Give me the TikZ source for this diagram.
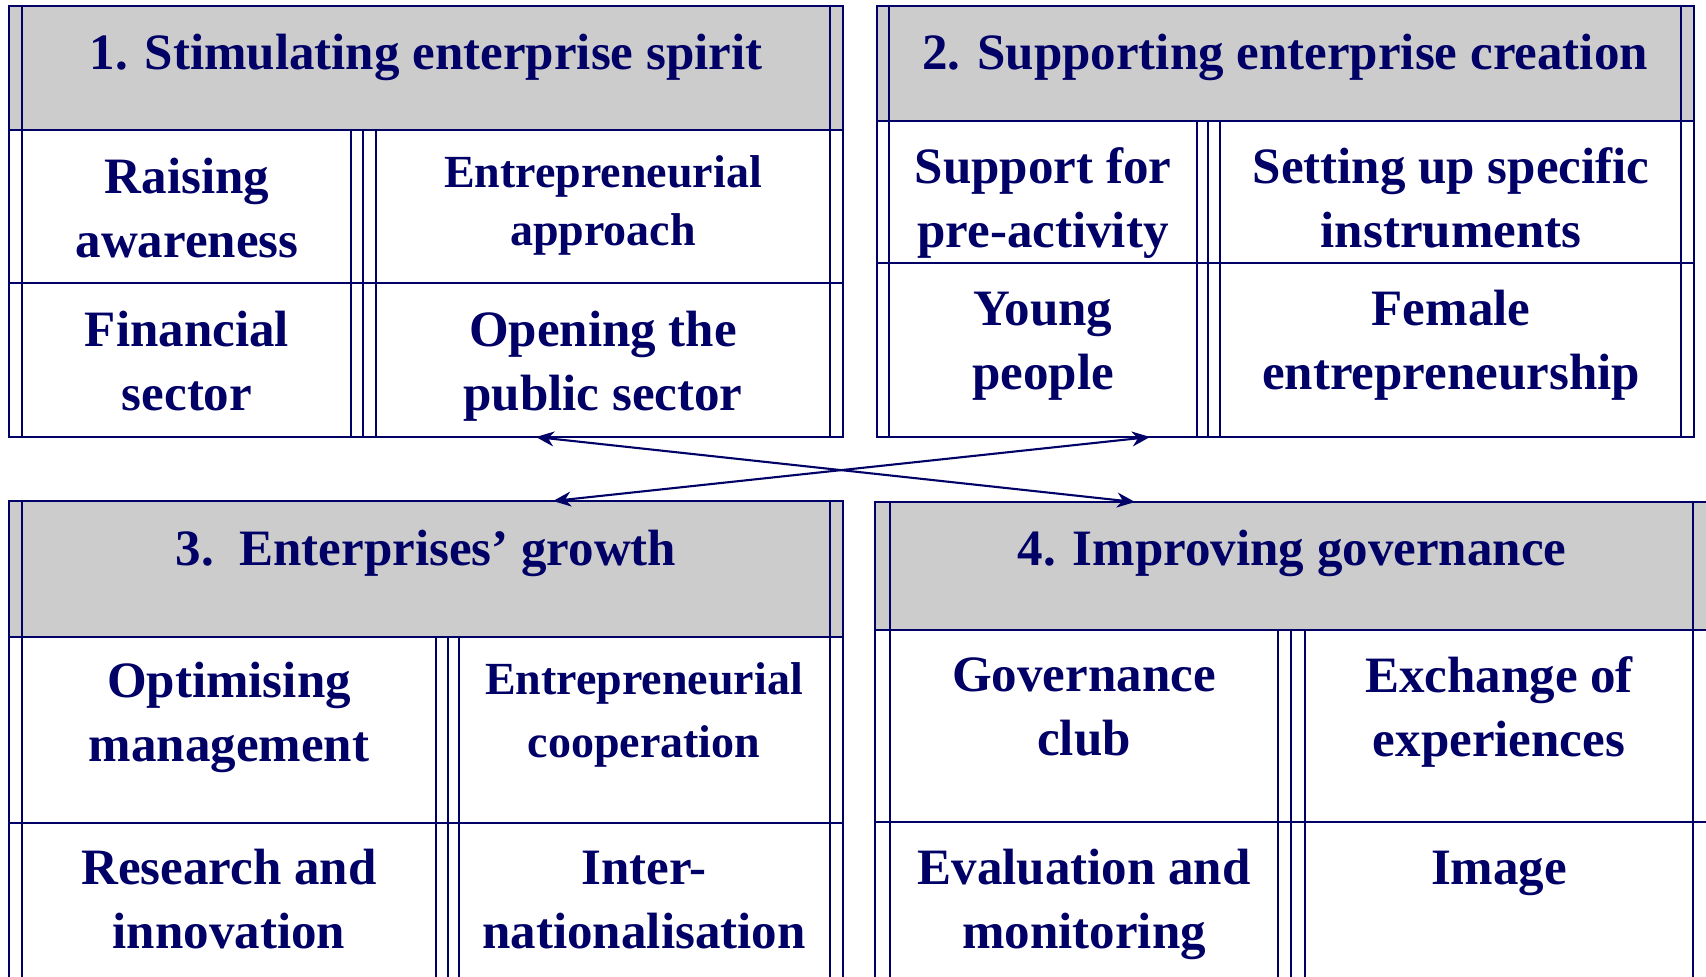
\documentclass[tikz,border=0pt]{standalone}
\usepackage{fontspec}
\setmainfont{Liberation Serif}
\usetikzlibrary{arrows.meta}
\definecolor{navy}{RGB}{0,0,102}
\definecolor{hdr}{RGB}{204,204,204}
\tikzset{
  outerln/.style={draw=navy, line width=1.15pt},
  innerln/.style={draw=navy, line width=0.8pt},
  thinln/.style={draw=navy, line width=0.55pt},
  lbl/.style={text=navy, font=\bfseries\fontsize{25.5}{32}\selectfont, align=center, anchor=base, inner sep=0pt},
  lbls/.style={lbl, font=\bfseries\fontsize{23}{29}\selectfont},
  link/.style={draw=navy, line width=1.05pt, {Stealth[length=9pt,width=7.5pt]}-{Stealth[length=9pt,width=7.5pt]}},
}
\begin{document}
\begin{tikzpicture}[x=0.5pt,y=-0.5pt]
\useasboundingbox (0,0) rectangle (1706,976);
\clip (0,0) rectangle (1706,976);
% ---- box 1
\fill[hdr] (9,6) rectangle (843,130);
\draw[innerln] (22,6) -- (22,437) (830,6) -- (830,437);
\draw[outerln] (9,130) -- (843,130) (9,283) -- (843,283);
\draw[innerln] (351,130) -- (351,437) (376,130) -- (376,437);
\draw[thinln] (363,130) -- (363,437);
\draw[outerln] (9,6) rectangle (843,437);
% ---- box 2
\fill[hdr] (877,6) rectangle (1694,121);
\draw[innerln] (889,6) -- (889,437) (1681,6) -- (1681,437);
\draw[outerln] (877,121) -- (1694,121) (877,263) -- (1694,263);
\draw[innerln] (1197,121) -- (1197,437) (1220,121) -- (1220,437);
\draw[thinln] (1208,121) -- (1208,437);
\draw[outerln] (877,6) rectangle (1694,437);
% ---- box 3
\fill[hdr] (9,501) rectangle (843,637);
\draw[innerln] (22,501) -- (22,1010) (830,501) -- (830,1010);
\draw[outerln] (9,637) -- (843,637) (9,823) -- (843,823);
\draw[innerln] (436,637) -- (436,1010) (459,637) -- (459,1010);
\draw[thinln] (448,637) -- (448,1010);
\draw[outerln] (9,501) rectangle (843,1010);
% ---- box 4
\fill[hdr] (875,502) rectangle (1710,630);
\draw[innerln] (890,502) -- (890,1010) (1693,502) -- (1693,1010);
\draw[outerln] (875,630) -- (1710,630) (875,822) -- (1710,822);
\draw[innerln] (1278,630) -- (1278,1010) (1305,630) -- (1305,1010);
\draw[thinln] (1291,630) -- (1291,1010);
\draw[outerln] (875,502) rectangle (1710,1010);
% ---- texts (anchor = baseline of last line)
\node[lbl] (t1) at (426,69) {1. Stimulating enterprise spirit};
\node[lbl] (c11) at (187,257) {Raising\\awareness};
\node[lbls] (c12) at (603,245) {Entrepreneurial\\approach};
\node[lbl] (c13) at (187,410) {Financial\\sector};
\node[lbl] (c14) at (603,410) {Opening the\\public sector};
\node[lbl] (t2) at (1285,69) {2. Supporting enterprise creation};
\node[lbl] (c21) at (1043,247) {Support for\\pre-activity};
\node[lbl] (c22) at (1451,247) {Setting up specific\\instruments};
\node[lbl] (c23) at (1043,389) {Young\\people};
\node[lbl] (c24) at (1451,389) {Female\\entrepreneurship};
\node[lbl] (t3) at (426,565) {3.\ \ Enterprises’ growth};
\node[lbl] (c31) at (229,761) {Optimising\\management};
\node[lbls, font=\bfseries\fontsize{23}{31.5}\selectfont] (c32) at (644,757) {Entrepreneurial\\cooperation};
\node[lbl] (c33) at (229,948) {Research and\\innovation};
\node[lbl] (c34) at (644,948) {Inter-\\nationalisation};
\node[lbl] (t4) at (1292,565) {4. Improving governance};
\node[lbl] (c41) at (1084,755) {Governance\\club};
\node[lbl] (c42) at (1499,756) {Exchange of\\experiences};
\node[lbl] (c43) at (1084,948) {Evaluation and\\monitoring};
\node[lbl] (c44) at (1499,884) {Image};
% ---- connectors
\coordinate (b1s) at (536,437);
\coordinate (b2s) at (1150,437);
\coordinate (b3n) at (553,501);
\coordinate (b4n) at (1135,502);
\draw[link] (b1s) -- (b4n);
\draw[link] (b3n) -- (b2s);
\end{tikzpicture}
\end{document}
